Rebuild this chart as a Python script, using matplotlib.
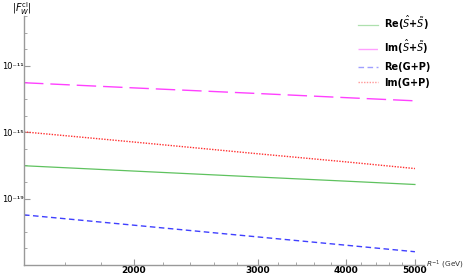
import matplotlib.pyplot as plt
import numpy as np
from matplotlib.ticker import FixedLocator, NullFormatter

# valores (log-log, lineas rectas)
r_inv = [1400, 2000, 3000, 4000, 5000]
re_ss = [10**-17.02, 10**-17.34, 10**-17.70, 10**-17.95, 10**-18.15]
im_ss = [10**-12.02, 10**-12.33, 10**-12.67, 10**-12.92, 10**-13.11]
re_gp = [10**-19.98, 10**-20.60, 10**-21.31, 10**-21.81, 10**-22.20]
im_gp = [10**-14.98, 10**-15.59, 10**-16.30, 10**-16.79, 10**-17.19]

x_major = [2000, 3000, 4000, 5000]
y_major = [1e-11, 1e-15, 1e-19]
y_labels = ['10⁻¹¹', '10⁻¹⁵', '10⁻¹⁹']

fig = plt.figure(figsize=(4.63, 2.76), dpi=100)
ax = fig.add_axes([24/463, 11/276, 400/463, 249/276])

ax.plot(r_inv, re_ss, color='#5fc25f', lw=0.9, label=r'Re($\hat{S}$+$\tilde{S}$)')
ax.plot(r_inv, im_ss, color='#ff40ff', lw=1.0, dashes=(14, 5), label=r'Im($\hat{S}$+$\tilde{S}$)')
ax.plot(r_inv, re_gp, color='#4040ff', lw=1.0, dashes=(4, 2.5), label='Re(G+P)')
ax.plot(r_inv, im_gp, color='#ff3030', lw=1.0, dashes=(1, 1), label='Im(G+P)')

ax.set_xscale('log')
ax.set_yscale('log')
ax.set_xlim(1400, 5150)
ax.set_ylim(1e-23, 1e-8)

ax.xaxis.set_major_locator(FixedLocator(x_major))
ax.xaxis.set_minor_locator(FixedLocator(np.arange(1400, 5001, 200)))
ax.set_xticklabels([str(v) for v in x_major])
ax.xaxis.set_minor_formatter(NullFormatter())
ax.yaxis.set_major_locator(FixedLocator(y_major))
ax.yaxis.set_minor_locator(FixedLocator([10.0**k for k in range(-23, -7)]))
ax.set_yticklabels(y_labels)
ax.yaxis.set_minor_formatter(NullFormatter())

for s in ['top', 'right']:
    ax.spines[s].set_visible(False)
for s in ['left', 'bottom']:
    ax.spines[s].set_color('#999999')
    ax.spines[s].set_linewidth(1.0)

ax.tick_params(which='both', direction='in', color='#999999', pad=1)
ax.tick_params(axis='x', labelsize=6.5)
ax.tick_params(axis='y', labelsize=6, pad=0.5)
ax.tick_params(which='major', length=4)
ax.tick_params(which='minor', length=2)
for lab in ax.get_xticklabels():
    lab.set_fontweight('bold')

ax.text(-0.03, 1.03, r'$|F_W^{\rm cl}|$', transform=ax.transAxes, fontsize=7, ha='left', va='center')
ax.text(1.005, 0.0, r'$R^{-1}$ (GeV)', transform=ax.transAxes, fontsize=5.3, ha='left', va='center', color='#333333')

leg = fig.legend(loc='upper left', bbox_to_anchor=(354/463, 1 - 10/276), frameon=False, fontsize=7,
                 handlelength=2.1, labelspacing=0.6, handletextpad=0.6, borderaxespad=0)
for line in leg.get_lines():
    line.set_alpha(0.5)
for t in leg.get_texts():
    t.set_fontweight('bold')

fig.savefig('out.png', dpi=100)
